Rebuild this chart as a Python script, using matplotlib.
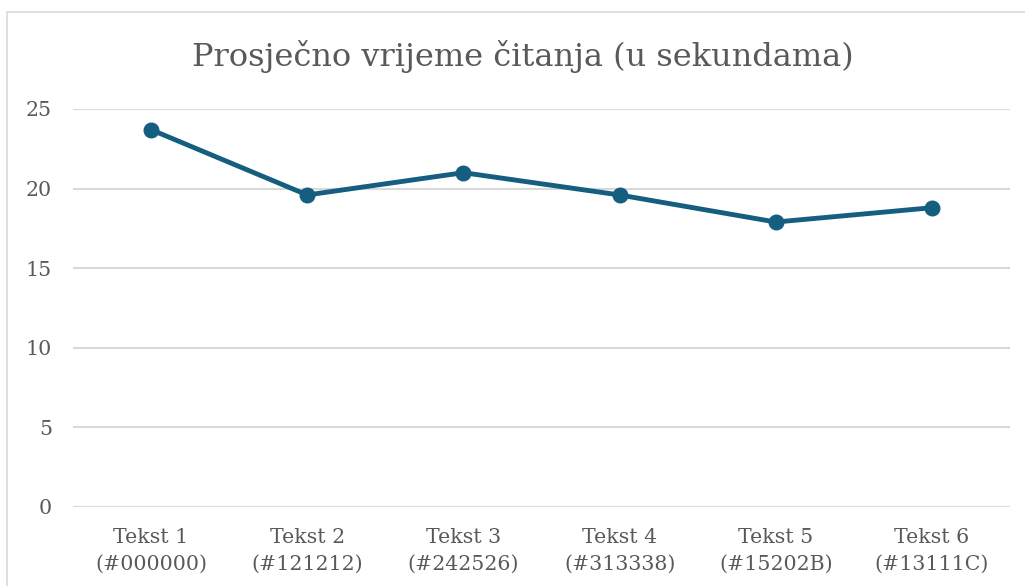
import matplotlib
matplotlib.use('Agg')
import matplotlib.pyplot as plt
from matplotlib.patches import Rectangle

# data
categories = ['Tekst 1\n(#000000)', 'Tekst 2\n(#121212)', 'Tekst 3\n(#242526)',
              'Tekst 4\n(#313338)', 'Tekst 5\n(#15202B)', 'Tekst 6\n(#13111C)']
avg_time = [23.7, 19.6, 21.0, 19.6, 17.9, 18.8]
yticks = [0, 5, 10, 15, 20, 25]

text_col = '#595959'
line_col = '#165E80'
grid_col = '#D9D9D9'

matplotlib.rc('font', family='DejaVu Serif')

fig = plt.figure(figsize=(10.25, 5.86), dpi=100)
fig.patches.append(Rectangle((7 / 1025, -0.1), 1.2, 1 - 12 / 586 + 0.1,
                             transform=fig.transFigure, fill=False,
                             edgecolor=grid_col, linewidth=1.2))

ax = fig.add_axes([73 / 1025, 79 / 586, 937 / 1025, 398 / 586])
x = range(len(categories))
ax.plot(x, avg_time, color=line_col, linewidth=3.5, marker='o', markersize=10.5,
        clip_on=False, zorder=3)

ax.set_xlim(-0.5, len(categories) - 0.5)
ax.set_ylim(0, 25)
ax.set_yticks(yticks)
ax.set_xticks(list(x))
ax.set_xticklabels(categories, linespacing=1.55)
ax.grid(axis='y', color=grid_col, linewidth=1.5)
ax.set_axisbelow(True)
for s in ax.spines.values():
    s.set_visible(False)
ax.tick_params(length=0, labelsize=14.8, colors=text_col)
ax.tick_params(axis='y', pad=15)
ax.tick_params(axis='x', pad=15)

fig.text(523 / 1025, 1 - 66 / 586, 'Prosječno vrijeme čitanja (u sekundama)',
         ha='center', va='baseline', fontsize=23, color=text_col)

plt.savefig('out.png', dpi=100)
